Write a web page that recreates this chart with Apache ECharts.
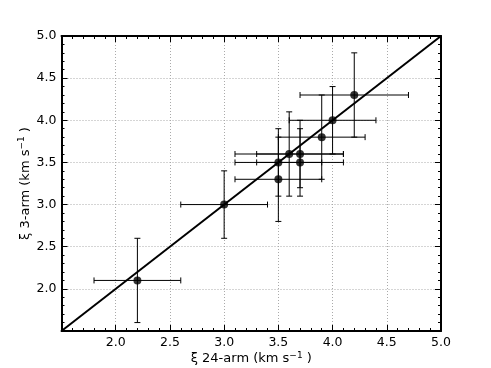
<!DOCTYPE html>
<html>
<head>
<meta charset="utf-8">
<script src="https://cdn.jsdelivr.net/npm/echarts@6/dist/echarts.min.js"></script>
<style>html,body{margin:0;padding:0;background:#fff}#c{width:491px;height:368px}</style>
</head>
<body>
<div id="c"></div>
<script>
var xVals = [2.2, 3.0, 3.5, 3.5, 3.6, 3.7, 3.7, 3.9, 4.0, 4.2];
var yVals = [2.1, 3.0, 3.3, 3.5, 3.6, 3.6, 3.5, 3.8, 4.0, 4.3];
var xErr  = [0.4, 0.4, 0.4, 0.4, 0.5, 0.4, 0.4, 0.4, 0.4, 0.5];
var yErr  = [0.5, 0.4, 0.5, 0.4, 0.5, 0.4, 0.4, 0.5, 0.4, 0.5];
var oneToOne = [1.5, 5.0];
var axisMin = 1.5, axisMax = 5.0, axisStep = 0.5;

var FONT = 'DejaVu Sans';
var pts = xVals.map(function (x, i) { return [x, yVals[i]]; });
var errData = xVals.map(function (x, i) { return [x, yVals[i], xErr[i], yErr[i]]; });

function baseAxis(pos, showLabel) {
  return {
    type: 'value', min: axisMin, max: axisMax, interval: axisStep, position: pos,
    axisLine: { show: true, onZero: false, lineStyle: { color: '#000', width: 2 } },
    axisTick: { show: true, inside: true, length: 6, lineStyle: { color: '#000', width: 1 } },
    minorTick: { show: true, splitNumber: 5, length: 3, lineStyle: { color: '#000', width: 1 } },
    splitLine: { show: showLabel, lineStyle: { color: '#aaa', type: [1, 2], width: 1 } },
    axisLabel: {
      show: showLabel, color: '#000', fontFamily: FONT, fontSize: 12.5, margin: 5,
      formatter: function (v) { return Math.abs(v - axisMin) < 1e-9 ? '' : v.toFixed(1); }
    }
  };
}

var nameStyle = { rich: {
  a: { fontFamily: FONT, fontSize: 13, color: '#000', lineHeight: 16 },
  s: { fontFamily: FONT, fontSize: 9, color: '#000', verticalAlign: 'top', lineHeight: 10 }
} };
var xb = baseAxis('bottom', true);
xb.name = '{a|ξ 24-arm (km s}{s|−1}{a| )}';
xb.nameLocation = 'middle'; xb.nameGap = 20; xb.nameMoveOverlap = false;
xb.nameTextStyle = nameStyle;
var xt = baseAxis('top', false);
var yl = baseAxis('left', true);
yl.name = '{a|ξ 3-arm (km s}{s|−1}{a| )}';
yl.nameLocation = 'middle'; yl.nameGap = 28; yl.nameRotate = 90; yl.nameMoveOverlap = false;
yl.nameTextStyle = nameStyle;
var yr = baseAxis('right', false);

var chart = echarts.init(document.getElementById('c'), null, { renderer: 'canvas' });
chart.setOption({
  animation: false,
  backgroundColor: '#fff',
  grid: { left: 61.5, right: 50, top: 36, bottom: 37, containLabel: false, outerBoundsMode: 'none' },
  xAxis: [xb, xt],
  yAxis: [yl, yr],
  series: [
    {
      type: 'line', xAxisIndex: 0, yAxisIndex: 0, symbol: 'none', z: 3,
      lineStyle: { color: '#000', width: 2 },
      data: [[oneToOne[0], oneToOne[0]], [oneToOne[1], oneToOne[1]]]
    },
    {
      type: 'custom', xAxisIndex: 0, yAxisIndex: 0, z: 2,
      data: errData,
      renderItem: function (params, api) {
        var x = api.value(0), y = api.value(1), ex = api.value(2), ey = api.value(3);
        var L = api.coord([x - ex, y]), R = api.coord([x + ex, y]);
        var T = api.coord([x, y + ey]), B = api.coord([x, y - ey]);
        var c = 3;
        var st = { stroke: '#000', lineWidth: 1 };
        function ln(a, b, cc, d) { return { type: 'line', shape: { x1: a, y1: b, x2: cc, y2: d }, style: st }; }
        return { type: 'group', children: [
          ln(L[0], L[1], R[0], R[1]),
          ln(L[0], L[1] - c, L[0], L[1] + c),
          ln(R[0], R[1] - c, R[0], R[1] + c),
          ln(T[0], T[1], B[0], B[1]),
          ln(T[0] - c, T[1], T[0] + c, T[1]),
          ln(B[0] - c, B[1], B[0] + c, B[1])
        ] };
      }
    },
    {
      type: 'scatter', xAxisIndex: 0, yAxisIndex: 0, z: 4,
      symbol: 'circle', symbolSize: 8,
      itemStyle: { color: '#000' },
      data: pts
    }
  ]
});
</script>
</body>
</html>
